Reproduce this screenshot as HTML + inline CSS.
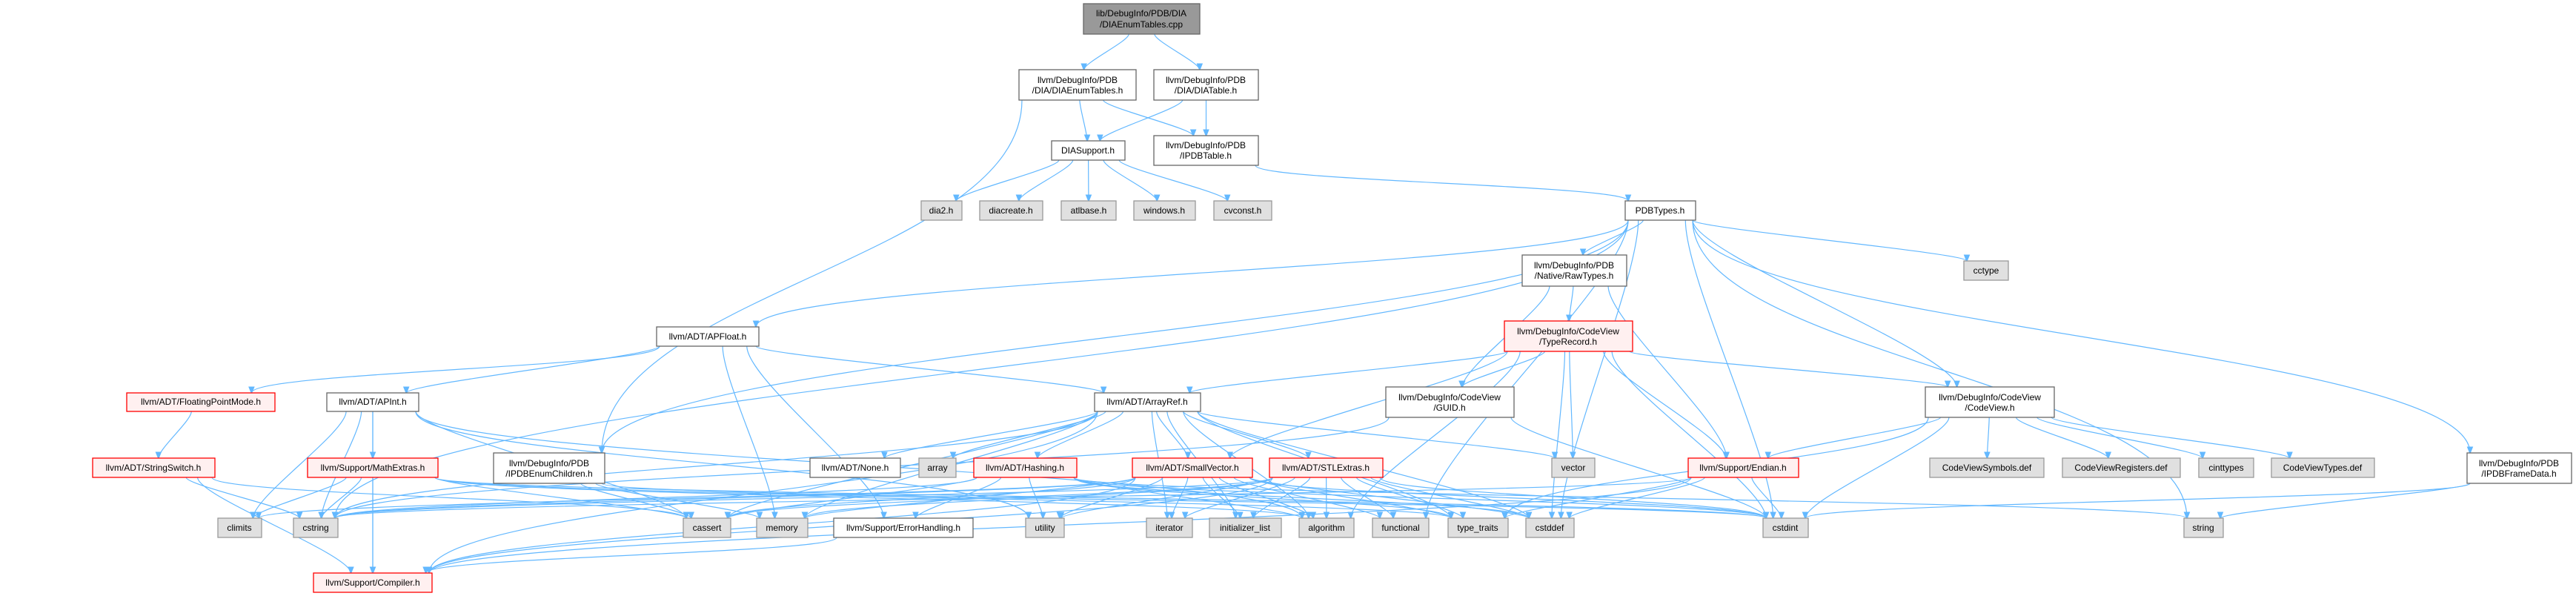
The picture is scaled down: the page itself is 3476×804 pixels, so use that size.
<!DOCTYPE html>
<html><head><meta charset="utf-8">
<style>
html,body{margin:0;padding:0;background:#fff;}
svg{display:block;}
text{font-family:"Liberation Sans",sans-serif;font-size:12px;fill:#000;text-anchor:middle;}
.w{fill:#fff;stroke:#666;stroke-width:1.3;}
.g{fill:#e0e0e0;stroke:#999;stroke-width:1.3;}
.r{fill:#fff0f0;stroke:#f00;stroke-width:1.3;}
.root{fill:#999;stroke:#666;stroke-width:1.3;}
.e{fill:none;stroke:#63b8ff;stroke-width:1.2;}
</style></head>
<body>
<svg id="s" width="3476" height="804" viewBox="0 0 3476 804" xmlns="http://www.w3.org/2000/svg">
<defs><marker id="a" viewBox="0 0 10 10" refX="9" refY="5" markerWidth="11" markerHeight="9" orient="auto" markerUnits="userSpaceOnUse"><path d="M0,1 L10,5 L0,9 z" fill="#63b8ff" stroke="#63b8ff"/></marker></defs>
<g id="edges"></g>
<g id="nodes">
<rect class="root" x="1462" y="5" width="157" height="41"/><text x="1540" y="22">lib/DebugInfo/PDB/DIA</text><text x="1540" y="37">/DIAEnumTables.cpp</text>
<rect class="w" x="1375" y="94" width="158" height="41"/><text x="1454" y="112">llvm/DebugInfo/PDB</text><text x="1454" y="126">/DIA/DIAEnumTables.h</text>
<rect class="w" x="1557" y="94" width="141" height="41"/><text x="1627" y="112">llvm/DebugInfo/PDB</text><text x="1627" y="126">/DIA/DIATable.h</text>
<rect class="w" x="1419" y="190" width="99" height="26"/><text x="1468" y="207">DIASupport.h</text>
<rect class="w" x="1557" y="183" width="141" height="40"/><text x="1627" y="200">llvm/DebugInfo/PDB</text><text x="1627" y="214">/IPDBTable.h</text>
<rect class="g" x="1243" y="271" width="55" height="26"/><text x="1270" y="288">dia2.h</text>
<rect class="g" x="1322" y="271" width="85" height="26"/><text x="1364" y="288">diacreate.h</text>
<rect class="g" x="1432" y="271" width="74" height="26"/><text x="1469" y="288">atlbase.h</text>
<rect class="g" x="1530" y="271" width="83" height="26"/><text x="1571" y="288">windows.h</text>
<rect class="g" x="1638" y="271" width="78" height="26"/><text x="1677" y="288">cvconst.h</text>
<rect class="w" x="2193" y="271" width="95" height="26"/><text x="2240" y="288">PDBTypes.h</text>
<rect class="w" x="2054" y="344" width="141" height="42"/><text x="2124" y="362">llvm/DebugInfo/PDB</text><text x="2124" y="376">/Native/RawTypes.h</text>
<rect class="g" x="2650" y="352" width="60" height="26"/><text x="2680" y="369">cctype</text>
<rect class="w" x="886" y="441" width="138" height="26"/><text x="955" y="458">llvm/ADT/APFloat.h</text>
<rect class="r" x="2030" y="433" width="173" height="41"/><text x="2116" y="451">llvm/DebugInfo/CodeView</text><text x="2116" y="465">/TypeRecord.h</text>
<rect class="r" x="171" y="530" width="200" height="25"/><text x="271" y="546">llvm/ADT/FloatingPointMode.h</text>
<rect class="w" x="441" y="530" width="124" height="25"/><text x="503" y="546">llvm/ADT/APInt.h</text>
<rect class="w" x="1477" y="530" width="143" height="25"/><text x="1548" y="546">llvm/ADT/ArrayRef.h</text>
<rect class="w" x="1870" y="522" width="173" height="41"/><text x="1956" y="540">llvm/DebugInfo/CodeView</text><text x="1956" y="554">/GUID.h</text>
<rect class="w" x="2598" y="522" width="174" height="41"/><text x="2685" y="540">llvm/DebugInfo/CodeView</text><text x="2685" y="554">/CodeView.h</text>
<rect class="r" x="125" y="618" width="165" height="26"/><text x="207" y="635">llvm/ADT/StringSwitch.h</text>
<rect class="r" x="415" y="618" width="176" height="26"/><text x="503" y="635">llvm/Support/MathExtras.h</text>
<rect class="w" x="666" y="611" width="150" height="41"/><text x="741" y="629">llvm/DebugInfo/PDB</text><text x="741" y="643">/IPDBEnumChildren.h</text>
<rect class="w" x="1093" y="618" width="122" height="26"/><text x="1154" y="635">llvm/ADT/None.h</text>
<rect class="g" x="1240" y="618" width="50" height="26"/><text x="1265" y="635">array</text>
<rect class="r" x="1314" y="618" width="139" height="26"/><text x="1383" y="635">llvm/ADT/Hashing.h</text>
<rect class="r" x="1528" y="618" width="162" height="26"/><text x="1609" y="635">llvm/ADT/SmallVector.h</text>
<rect class="r" x="1713" y="618" width="153" height="26"/><text x="1789" y="635">llvm/ADT/STLExtras.h</text>
<rect class="g" x="2094" y="618" width="58" height="26"/><text x="2123" y="635">vector</text>
<rect class="r" x="2278" y="618" width="149" height="26"/><text x="2352" y="635">llvm/Support/Endian.h</text>
<rect class="g" x="2604" y="618" width="154" height="26"/><text x="2681" y="635">CodeViewSymbols.def</text>
<rect class="g" x="2783" y="618" width="159" height="26"/><text x="2862" y="635">CodeViewRegisters.def</text>
<rect class="g" x="2967" y="618" width="74" height="26"/><text x="3004" y="635">cinttypes</text>
<rect class="g" x="3065" y="618" width="139" height="26"/><text x="3134" y="635">CodeViewTypes.def</text>
<rect class="w" x="3329" y="611" width="141" height="41"/><text x="3399" y="629">llvm/DebugInfo/PDB</text><text x="3399" y="643">/IPDBFrameData.h</text>
<rect class="g" x="294" y="699" width="59" height="26"/><text x="323" y="716">climits</text>
<rect class="g" x="396" y="699" width="60" height="26"/><text x="426" y="716">cstring</text>
<rect class="g" x="922" y="699" width="64" height="26"/><text x="954" y="716">cassert</text>
<rect class="g" x="1021" y="699" width="69" height="26"/><text x="1055" y="716">memory</text>
<rect class="w" x="1125" y="699" width="188" height="26"/><text x="1219" y="716">llvm/Support/ErrorHandling.h</text>
<rect class="g" x="1384" y="699" width="52" height="26"/><text x="1410" y="716">utility</text>
<rect class="g" x="1547" y="699" width="62" height="26"/><text x="1578" y="716">iterator</text>
<rect class="g" x="1632" y="699" width="97" height="26"/><text x="1680" y="716">initializer_list</text>
<rect class="g" x="1753" y="699" width="74" height="26"/><text x="1790" y="716">algorithm</text>
<rect class="g" x="1852" y="699" width="76" height="26"/><text x="1890" y="716">functional</text>
<rect class="g" x="1954" y="699" width="81" height="26"/><text x="1994" y="716">type_traits</text>
<rect class="g" x="2059" y="699" width="65" height="26"/><text x="2091" y="716">cstddef</text>
<rect class="g" x="2379" y="699" width="61" height="26"/><text x="2409" y="716">cstdint</text>
<rect class="g" x="2947" y="699" width="53" height="26"/><text x="2973" y="716">string</text>
<rect class="r" x="423" y="773" width="160" height="26"/><text x="503" y="790">llvm/Support/Compiler.h</text>
</g>
</svg>
<script>
var N={root:[1462,5,1619,46],det:[1375,94,1533,135],dit:[1557,94,1698,135],dsu:[1419,190,1518,216],ipt:[1557,183,1698,223],
dia2:[1243,271,1298,297],diac:[1322,271,1407,297],atl:[1432,271,1506,297],win:[1530,271,1613,297],cvc:[1638,271,1716,297],
pdb:[2193,271,2288,297],raw:[2054,344,2195,386],cct:[2650,352,2710,378],apf:[886,441,1024,467],tr:[2030,433,2203,474],
fpm:[171,530,371,555],api:[441,530,565,555],ar:[1477,530,1620,555],guid:[1870,522,2043,563],cv:[2598,522,2772,563],
ss:[125,618,290,644],me:[415,618,591,644],iec:[666,611,816,652],none:[1093,618,1215,644],arr:[1240,618,1290,644],
hash:[1314,618,1453,644],sv:[1528,618,1690,644],stl:[1713,618,1866,644],vec:[2094,618,2152,644],end:[2278,618,2427,644],
cvs:[2604,618,2758,644],cvr:[2783,618,2942,644],cit:[2967,618,3041,644],cvt:[3065,618,3204,644],ifd:[3329,611,3470,652],
clim:[294,699,353,725],cstr:[396,699,456,725],cas:[922,699,986,725],mem:[1021,699,1090,725],eh:[1125,699,1313,725],
uti:[1384,699,1436,725],it:[1547,699,1609,725],il:[1632,699,1729,725],alg:[1753,699,1827,725],fun:[1852,699,1928,725],
tt:[1954,699,2035,725],csd:[2059,699,2124,725],cint:[2379,699,2440,725],str:[2947,699,3000,725],cmp:[423,773,583,799]};
var E=[["root","det"],["root","dit"],["det","dsu"],["det","ipt"],["det","iec"],["dit","dsu"],["dit","ipt"],
["dsu","dia2"],["dsu","diac"],["dsu","atl"],["dsu","win"],["dsu","cvc"],["ipt","pdb"],
["pdb","raw"],["pdb","cct"],["pdb","cv"],["pdb","ifd"],["pdb","cint"],["pdb","csd"],["pdb","cstr"],["pdb","apf"],["pdb","iec"],["pdb","str"],["pdb","fun"],
["raw","guid"],["raw","tr"],["raw","end"],
["tr","ar"],["tr","guid"],["tr","sv"],["tr","vec"],["tr","end"],["tr","cv"],["tr","cint"],["tr","csd"],["tr","alg"],
["guid","cint"],["guid","cstr"],
["cv","end"],["cv","cint"],["cv","cvs"],["cv","cvr"],["cv","cit"],["cv","cvt"],["cv","tt"],
["ifd","cint"],["ifd","str"],
["apf","fpm"],["apf","api"],["apf","ar"],["apf","mem"],["apf","eh"],
["fpm","ss"],["ss","cmp"],["ss","cstr"],["ss","cas"],
["api","me"],["api","cmp"],["api","cstr"],["api","clim"],["api","cas"],["api","uti"],["api","alg"],
["me","cmp"],["me","clim"],["me","cstr"],["me","cas"],["me","alg"],["me","tt"],["me","cint"],
["iec","cas"],["iec","mem"],["iec","cint"],
["ar","none"],["ar","arr"],["ar","hash"],["ar","sv"],["ar","stl"],["ar","vec"],["ar","cmp"],["ar","cas"],["ar","mem"],["ar","it"],["ar","alg"],["ar","csd"],["ar","il"],["ar","tt"],["ar","cstr"],
["hash","eh"],["hash","uti"],["hash","cas"],["hash","cstr"],["hash","alg"],["hash","str"],["hash","tt"],["hash","cint"],["hash","csd"],
["sv","cmp"],["sv","cas"],["sv","mem"],["sv","it"],["sv","alg"],["sv","il"],["sv","uti"],["sv","tt"],["sv","csd"],["sv","fun"],["sv","cint"],["sv","cstr"],["sv","clim"],
["stl","cmp"],["stl","cas"],["stl","mem"],["stl","it"],["stl","alg"],["stl","il"],["stl","uti"],["stl","tt"],["stl","csd"],["stl","fun"],["stl","cint"],["stl","cstr"],
["end","cmp"],["end","cint"],["end","csd"],["end","cstr"],["end","tt"],
["eh","cmp"]];
var g=document.getElementById("edges"),h="";
E.forEach(function(e){var a=N[e[0]],b=N[e[1]];
var sx=(a[0]+a[2])/2,sy=a[3],tx=(b[0]+b[2])/2,ty=b[1];
var dx=tx-sx;sx+=Math.max(-(a[2]-a[0])/2+4,Math.min((a[2]-a[0])/2-4,dx*0.2));
tx-=Math.max(-(b[2]-b[0])/2+4,Math.min((b[2]-b[0])/2-4,dx*0.1));
var k=Math.abs(dx)>600?0.45:0.2;
h+='<path class="e" marker-end="url(#a)" d="M'+sx+','+sy+' C'+sx+','+(sy+(ty-sy)*k)+' '+tx+','+(ty-(ty-sy)*k)+' '+tx+','+ty+'"/>';});
g.innerHTML=h;
</script>
</body></html>
